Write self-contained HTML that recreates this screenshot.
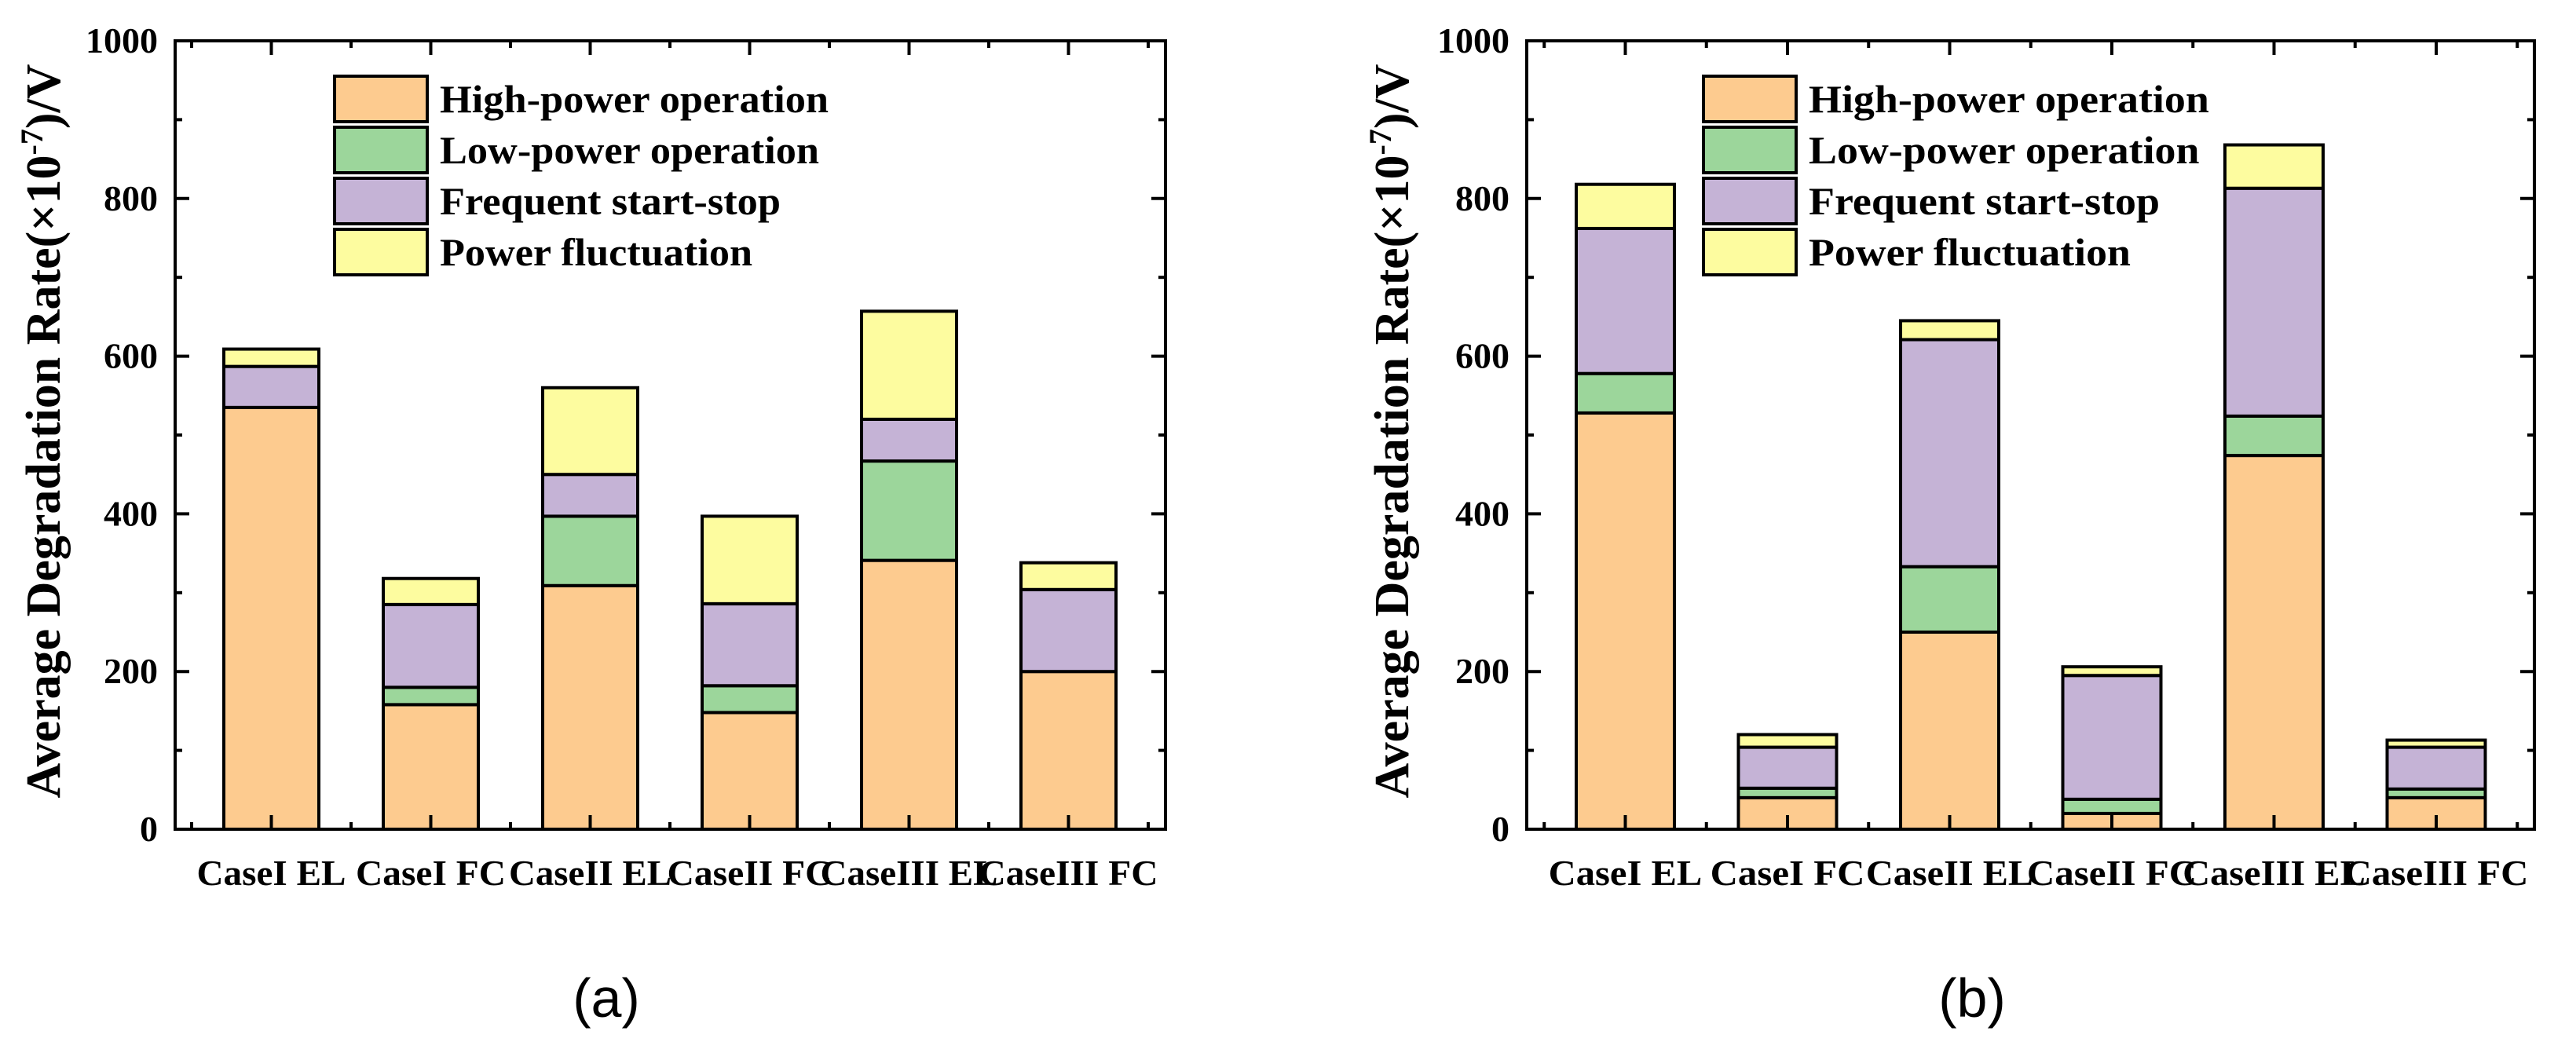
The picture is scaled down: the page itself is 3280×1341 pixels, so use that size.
<!DOCTYPE html>
<html><head><meta charset="utf-8"><style>
html,body{margin:0;padding:0;background:#fff;}
svg{display:block;}
text{font-family:"Liberation Serif","Times New Roman",serif;font-weight:bold;fill:#000;}
</style></head><body>
<svg id="fig" width="3280" height="1341" viewBox="0 0 3280 1341" xmlns="http://www.w3.org/2000/svg"></svg>
<script>
const categories = ["CaseI EL","CaseI FC","CaseII EL","CaseII FC","CaseIII EL","CaseIII FC"];
const seriesNames = ["High-power operation","Low-power operation","Frequent start-stop","Power fluctuation"];
const seriesColors = ["#fdcb8f","#9cd69b","#c5b3d6","#fdfc9f"];
const aHigh = [535,158,309,148,341,200];
const aLow = [0,22,88,34,126,0];
const aStart = [52,105,53,104,53,104];
const aFluct = [22,33,110,111,137,34];
const bHigh = [528,40,250,20,474,40];
const bLow = [50,12,83,18,50,11];
const bStart = [184,52,288,157,289,53];
const bFluct = [56,16,24,11,55,9];
const yTicks = [0,200,400,600,800,1000];
const catLabelWidths = [190,191,207,210,226,228];
const legendWidths = [495,483,434,398];

const NS="http://www.w3.org/2000/svg";
const svg=document.getElementById('fig');
const SERIF='"Liberation Serif","Times New Roman",serif';
function el(tag,attrs,parent){const e=document.createElementNS(NS,tag);for(const k in attrs)e.setAttribute(k,attrs[k]);if(tag==='text'&&!attrs['font-family'])e.setAttribute('font-family',SERIF);(parent||svg).appendChild(e);return e;}

function panel(cfg){
  const g=el('g',{});
  
  
  const L=cfg.left,R=cfg.right,T=52,B=1056;
  const sp=cfg.spacing,c0=cfg.center0,bw=cfg.barWidth;
  const yS=v=>B-(v/1000)*(B-T);
  const xS=i=>c0+i*sp;
  const series=[cfg.high,cfg.low,cfg.start,cfg.fluct];
  const keys=['high-power','low-power','start-stop','fluctuation'];
  categories.forEach((c,i)=>{
    let base=0;
    series.forEach((s,k)=>{
      const v=s[i];
      const y1=yS(base),y2=yS(base+v);
      const r=el('rect',{x:xS(i)-bw/2,y:y2,width:bw,height:Math.max(0,y1-y2),fill:seriesColors[k],stroke:'#000','stroke-width':4},g);
      
      
      base+=v;
    });
  });
  const fr=el('rect',{x:L,y:T,width:R-L,height:B-T,fill:'none',stroke:'#000','stroke-width':4},g);
  
  
  for(let v=0;v<=1000;v+=100){
    const len=(v%200===0)?18:9;const y=yS(v);
    el('line',{x1:L,x2:L+len,y1:y,y2:y,stroke:'#000','stroke-width':4},g);
    el('line',{x1:R,x2:R-len,y1:y,y2:y,stroke:'#000','stroke-width':4},g);
  }
  yTicks.forEach(v=>{
    const t=el('text',{x:L-22,y:yS(v)+15,'font-size':46,'text-anchor':'end'},g);
    t.textContent=String(v);
    
    
  });
  categories.forEach((c,i)=>{
    const x=xS(i);
    el('line',{x1:x,x2:x,y1:B,y2:B-18,stroke:'#000','stroke-width':4},g);
    el('line',{x1:x,x2:x,y1:T,y2:T+18,stroke:'#000','stroke-width':4},g);
  });
  for(let i=-1;i<categories.length;i++){
    const x=xS(i)+sp/2;
    if(x<L||x>R)continue;
    el('line',{x1:x,x2:x,y1:B,y2:B-9,stroke:'#000','stroke-width':4},g);
    el('line',{x1:x,x2:x,y1:T,y2:T+9,stroke:'#000','stroke-width':4},g);
  }
  categories.forEach((c,i)=>{
    const t=el('text',{x:xS(i),y:1127,'font-size':46,'text-anchor':'middle',textLength:catLabelWidths[i]*cfg.ts,lengthAdjust:'spacingAndGlyphs'},g);
    t.textContent=c;
    
    
  });
  const yt=el('text',{x:0,y:0,'font-size':62,'text-anchor':'middle',textLength:935,lengthAdjust:'spacingAndGlyphs',transform:'translate('+(cfg.titleX)+',549) rotate(-90)'},g);
  yt.innerHTML='Average Degradation Rate(×10<tspan dy="-22" font-size="40">-7</tspan><tspan dy="22">)/V</tspan>';
  
  
  seriesNames.forEach((n,k)=>{
    const y0=97+k*65;
    const r=el('rect',{x:cfg.legX,y:y0,width:118,height:58,fill:seriesColors[k],stroke:'#000','stroke-width':4},g);
    
    
    const t=el('text',{x:cfg.legX+134,y:143+k*65,'font-size':50,textLength:legendWidths[k]*cfg.ts,lengthAdjust:'spacingAndGlyphs'},g);
    t.textContent=n;
    
    
  });
  const cap=el('text',{x:cfg.capX,y:1295,'font-size':70,'text-anchor':'middle','font-family':'"Liberation Sans",sans-serif',style:'font-family:"Liberation Sans",sans-serif;font-weight:normal'},g);
  cap.textContent=cfg.caption;
  
  
}

panel({name:'panel-a',left:223,right:1484,center0:345.5,spacing:203,barWidth:121,high:aHigh,low:aLow,start:aStart,fluct:aFluct,titleX:76,legX:426,ts:1,capX:772,caption:'(a)'});
panel({name:'panel-b',left:1944,right:3227,center0:2069.5,spacing:206.5,barWidth:125,high:bHigh,low:bLow,start:bStart,fluct:bFluct,titleX:1793,legX:2169,ts:1.03,capX:2511,caption:'(b)'});
</script>
</body></html>
